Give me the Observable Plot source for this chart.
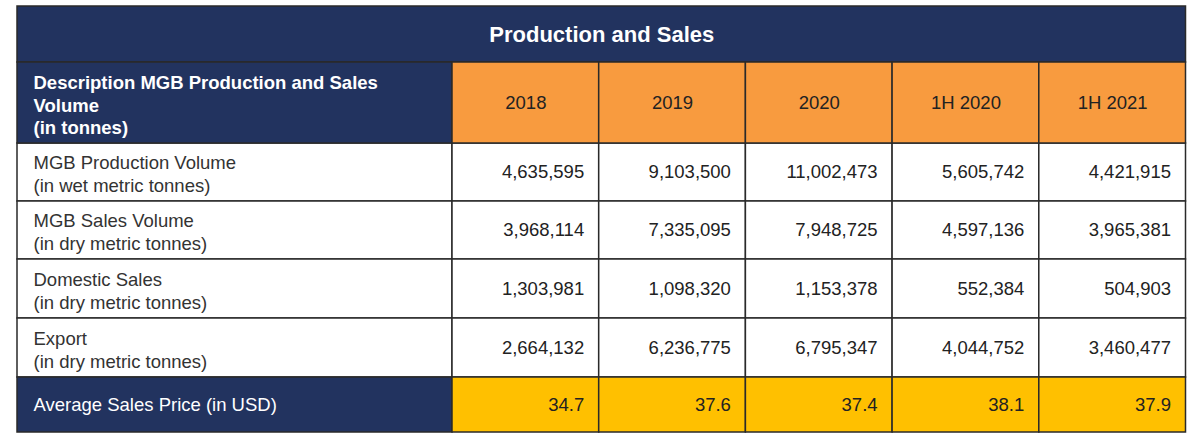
<!DOCTYPE html>
<html><head><meta charset="utf-8">
<script src="https://cdn.jsdelivr.net/npm/d3@7"></script>
<script src="https://cdn.jsdelivr.net/npm/@observablehq/plot@0.6"></script>
<style>html,body{margin:0;padding:0;background:#fff}#chart svg{display:block}</style>
</head><body><div id="chart"></div>
<script>
// ---- data ----
const title = "Production and Sales";
const headerLabel = "Description MGB Production and Sales\nVolume\n(in tonnes)";
const periods = ["2018", "2019", "2020", "1H 2020", "1H 2021"];
const rowLabels = ["MGB Production Volume", "MGB Sales Volume", "Domestic Sales", "Export"];
const rowUnits = ["(in wet metric tonnes)", "(in dry metric tonnes)", "(in dry metric tonnes)", "(in dry metric tonnes)"];
const productionVolume = [4635595, 9103500, 11002473, 5605742, 4421915];
const salesVolume = [3968114, 7335095, 7948725, 4597136, 3965381];
const domesticSales = [1303981, 1098320, 1153378, 552384, 504903];
const exportSales = [2664132, 6236775, 6795347, 4044752, 3460477];
const priceLabel = "Average Sales Price (in USD)";
const avgPrice = [34.7, 37.6, 37.4, 38.1, 37.9];

// ---- layout ----
const W = 1200, H = 446;
const colEdges = [17, 452, 598.7, 745.4, 892.1, 1038.8, 1185.5];
const rowEdges = [6, 62, 143, 201, 259, 318, 377, 432];
const NAVY = "#22335f", ORANGE = "#f89b3f", GOLD = "#ffc000", LINE = "#2a2a2a";
const FONT = "'Liberation Sans', Arial, Helvetica, sans-serif";
const FS = 18.5;

const bodyRows = [productionVolume, salesVolume, domesticSales, exportSales];
const fmt = d3.format(",");
const fmtPrice = d3.format(".1f");

const cx = c => (colEdges[c] + colEdges[c + 1]) / 2;
const cy = r => (rowEdges[r] + rowEdges[r + 1]) / 2;
const cell = (c1, c2, r) => ({x1: colEdges[c1], x2: colEdges[c2], y1: rowEdges[r], y2: rowEdges[r + 1]});

const navyCells = [cell(0, 6, 0), cell(0, 1, 1), cell(0, 1, 6)];
const orangeCells = periods.map((p, i) => cell(i + 1, i + 2, 1));
const goldCells = avgPrice.map((p, i) => cell(i + 1, i + 2, 6));
const whiteCells = [];
bodyRows.forEach((vals, r) => {
  whiteCells.push(cell(0, 1, r + 2));
  vals.forEach((v, i) => whiteCells.push(cell(i + 1, i + 2, r + 2)));
});

const titleText = [{x: (colEdges[0] + colEdges[6]) / 2, y: cy(0), t: title}];
const headText = [{x: colEdges[0] + 16, y: cy(1) + 1.5, t: headerLabel}];
const periodText = periods.map((p, i) => ({x: cx(i + 1), y: cy(1), t: p}));
const labelText = rowLabels.map((l, r) => ({x: colEdges[0] + 16, y: cy(r + 2) + 1, t: l + "\n" + rowUnits[r]}));
const numText = [];
bodyRows.forEach((vals, r) => vals.forEach((v, i) => numText.push({x: colEdges[i + 2] - 15, y: cy(r + 2), t: fmt(v)})));
const priceLabelText = [{x: colEdges[0] + 16, y: cy(6), t: priceLabel}];
const priceText = avgPrice.map((v, i) => ({x: colEdges[i + 2] - 15, y: cy(6), t: fmtPrice(v)}));

const rectOpts = {x1: "x1", x2: "x2", y1: "y1", y2: "y2", stroke: LINE, strokeWidth: 1.5};
const txt = (data, o) => Plot.text(data, {x: "x", y: "y", text: "t", fontSize: FS, fontFamily: FONT, lineAnchor: "middle", ...o});

const chart = Plot.plot({
  width: W, height: H, margin: 0,
  x: {type: "linear", domain: [0, W], range: [0, W], axis: null},
  y: {type: "linear", domain: [0, H], range: [0, H], axis: null},
  style: {fontFamily: FONT, background: "#fff"},
  marks: [
    Plot.rect(whiteCells, {...rectOpts, fill: "#ffffff"}),
    Plot.rect(navyCells, {...rectOpts, fill: NAVY}),
    Plot.rect(orangeCells, {...rectOpts, fill: ORANGE}),
    Plot.rect(goldCells, {...rectOpts, fill: GOLD}),
    txt(titleText, {fontSize: 22, fontWeight: "bold", fill: "#ffffff", textAnchor: "middle"}),
    txt(headText, {fontWeight: "bold", fill: "#ffffff", textAnchor: "start", lineHeight: 1.22}),
    txt(periodText, {fill: "#222222", textAnchor: "middle"}),
    txt(labelText, {fill: "#333333", textAnchor: "start", lineHeight: 1.25}),
    txt(numText, {fill: "#222222", textAnchor: "end"}),
    txt(priceLabelText, {fill: "#ffffff", textAnchor: "start"}),
    txt(priceText, {fill: "#222222", textAnchor: "end"})
  ]
});
document.getElementById("chart").appendChild(chart);
</script>
</body></html>
